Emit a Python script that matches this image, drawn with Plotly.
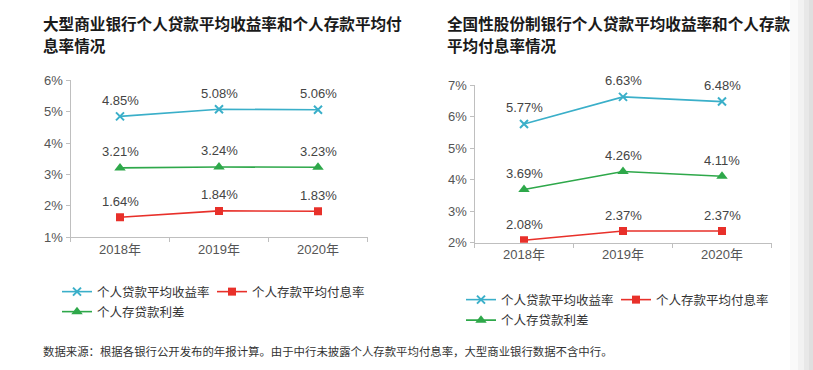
import plotly.graph_objects as go

years = ["2018年", "2019年", "2020年"]
series_names = ["个人贷款平均收益率", "个人存款平均付息率", "个人存贷款利差"]

big_loan = [4.85, 5.08, 5.06]
big_deposit = [1.64, 1.84, 1.83]
big_spread = [3.21, 3.24, 3.23]

jsb_loan = [5.77, 6.63, 6.48]
jsb_deposit = [2.08, 2.37, 2.37]
jsb_spread = [3.69, 4.26, 4.11]

title_left = ["大型商业银行个人贷款平均收益率和个人存款平均付", "息率情况"]
title_right = ["全国性股份制银行个人贷款平均收益率和个人存款", "平均付息率情况"]
footer = "数据来源：根据各银行公开发布的年报计算。由于中行未披露个人存款平均付息率，大型商业银行数据不含中行。"

FONT = "Liberation Sans, Arial, Noto Sans CJK SC, sans-serif"
CYAN = "#3AAFC9"
RED = "#E8302A"
GREEN = "#2EA84A"
AXIS = "#BFBFBF"

W, H = 813, 370

styles = [
    dict(color=CYAN, symbol="x-thin-open", size=8),
    dict(color=RED, symbol="square", size=8),
    dict(color=GREEN, symbol="triangle-up", size=10),
]

fig = go.Figure()

panels = [
    ("x", "y", [big_loan, big_deposit, big_spread], ["legend", "legend", "legend2"]),
    ("x2", "y2", [jsb_loan, jsb_deposit, jsb_spread], ["legend3", "legend3", "legend4"]),
]

for xa, ya, data, legs in panels:
    for i, vals in enumerate(data):
        st = styles[i]
        fig.add_trace(go.Scatter(
            x=years, y=vals, xaxis=xa, yaxis=ya,
            name=series_names[i], legend=legs[i],
            mode="lines+markers",
            line=dict(color=st["color"], width=1.6),
            marker=dict(color=st["color"], symbol=st["symbol"], size=st["size"],
                        line=dict(color=st["color"], width=2 if i == 0 else 0)),
            hoverinfo="skip",
        ))
        for xv, yv in zip(years, vals):
            fig.add_annotation(
                x=xv, y=yv, xref=xa, yref=ya, text=f"{yv:.2f}%",
                showarrow=False, yshift=16,
                font=dict(family=FONT, size=13, color="#444444"),
            )

def px_x(p):
    return p / W

def px_y(p):
    return 1 - p / H

axis_common = dict(showgrid=False, zeroline=False, showline=True, linecolor=AXIS,
                   linewidth=1, ticks="outside", ticklen=4, tickcolor=AXIS,
                   automargin=False,
                   tickfont=dict(family=FONT, size=13, color="#555555"))

fig.update_layout(
    width=W, height=H,
    margin=dict(l=0, r=0, t=0, b=0, pad=0, autoexpand=False),
    paper_bgcolor="white", plot_bgcolor="white",
    font=dict(family=FONT),
    xaxis=dict(domain=[px_x(70.5), px_x(367.5)], anchor="y", type="category",
               range=[-0.5, 2.5], tickson="boundaries", **axis_common),
    yaxis=dict(domain=[px_y(237.3), px_y(80.3)], anchor="x", range=[1, 6], dtick=1,
               ticksuffix="%", **axis_common),
    xaxis2=dict(domain=[px_x(474.5), px_x(771.5)], anchor="y2", type="category",
                range=[-0.5, 2.5], tickson="boundaries", **axis_common),
    yaxis2=dict(domain=[px_y(242.7), px_y(85.2)], anchor="x2", range=[2, 7], dtick=1,
                ticksuffix="%", **axis_common),
)

leg_font = dict(family=FONT, size=12.5, color="#333333")
leg_common = dict(orientation="h", xanchor="left", yanchor="middle", font=leg_font,
                  bgcolor="rgba(0,0,0,0)", itemwidth=30, tracegroupgap=0)
fig.update_layout(
    legend=dict(x=px_x(57), y=px_y(292), entrywidth=110, **leg_common),
    legend2=dict(x=px_x(57), y=px_y(312), **leg_common),
    legend3=dict(x=px_x(461), y=px_y(300), entrywidth=110, **leg_common),
    legend4=dict(x=px_x(461), y=px_y(320.5), **leg_common),
)

# titles
for lines, x0 in ((title_left, 41), (title_right, 445)):
    for k, line in enumerate(lines):
        fig.add_annotation(
            x=px_x(x0), y=px_y(23 + 22.5 * k), xref="paper", yref="paper",
            xanchor="left", yanchor="middle", showarrow=False,
            text=f"<b>{line}</b>",
            font=dict(family="Noto Sans CJK SC, sans-serif", size=15.6, color="#1a1a1a"),
        )

fig.add_annotation(
    x=px_x(41), y=px_y(351), xref="paper", yref="paper",
    xanchor="left", yanchor="middle", showarrow=False, text=footer,
    font=dict(family="Noto Sans CJK SC, sans-serif", size=11.4, color="#333333"),
)

# scan shading on the right edge
for x0, a in ((790, 0.05), (798, 0.08), (804, 0.10), (809, 0.10)):
    fig.add_shape(type="rect", xref="paper", yref="paper",
                  x0=px_x(x0), x1=1, y0=0, y1=1, line=dict(width=0),
                  fillcolor=f"rgba(150,150,150,{a})", layer="above")

fig.write_html("out.html", config={"displayModeBar": False},
               post_script="document.body.style.margin='0';document.body.style.padding='0';")
